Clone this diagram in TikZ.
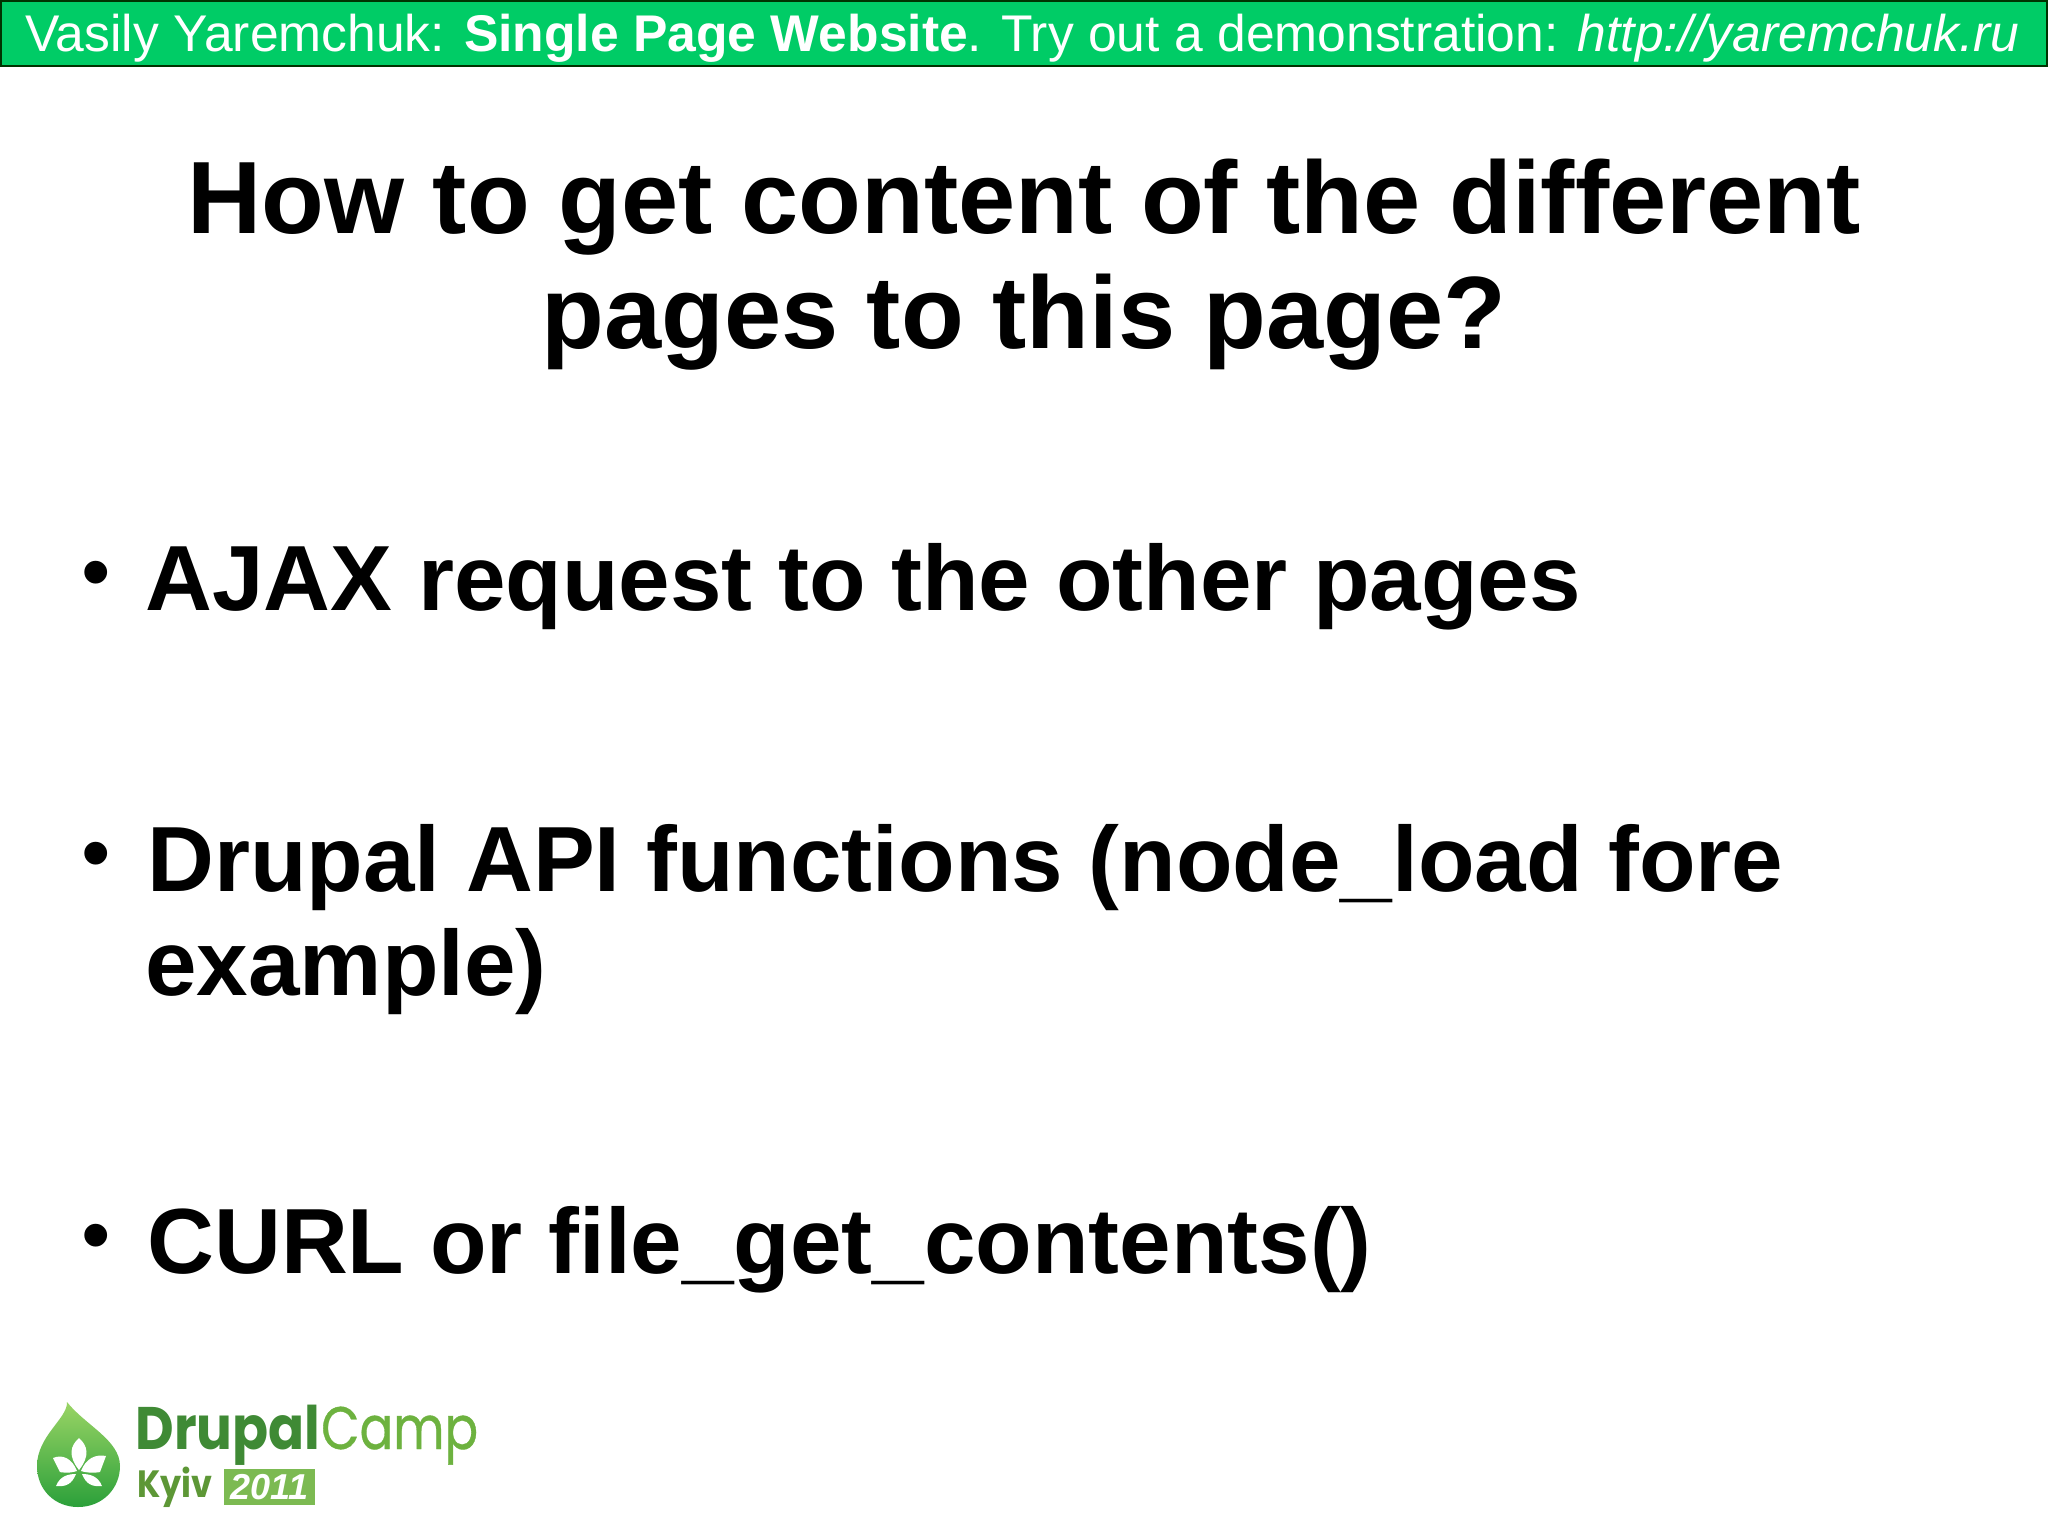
\documentclass[tikz,border=0pt]{standalone}
\usepackage{fontspec}
\setmainfont{Liberation Sans}
\newfontfamily\logofont{Poppins}
\newfontfamily\logofontb[FakeBold=0.6]{Poppins}
\usetikzlibrary{calc}
\definecolor{bannergreen}{HTML}{00CC66}
\definecolor{logodark}{HTML}{3F8A35}
\definecolor{logolight}{HTML}{6DB23F}
\definecolor{droptop}{HTML}{9AD465}
\definecolor{dropmid}{HTML}{6FBE4A}
\definecolor{dropbot}{HTML}{2BA03A}
\tikzset{
  px/.style={x=0.5pt,y=-0.5pt},
  bannertext/.style={anchor=base west,inner sep=0pt,text=white,font=\fontsize{25.8pt}{28pt}\selectfont},
  titletext/.style={anchor=base,inner sep=0pt,font=\fontsize{51.4pt}{56pt}\selectfont\bfseries},
  bodytext/.style={anchor=base west,inner sep=0pt,font=\fontsize{46.3pt}{50pt}\selectfont\bfseries},
  bullettext/.style={anchor=base west,inner sep=0pt,font=\fontsize{42pt}{44pt}\selectfont},
  logotext/.style={anchor=base west,inner sep=0pt,font=\logofont\fontsize{30pt}{32pt}\selectfont\bfseries},
  petal/.style={fill=white,draw=none}
}
\begin{document}
\begin{tikzpicture}[px]
\useasboundingbox (0,0) rectangle (2048,1535);
\fill[white] (0,0) rectangle (2048,1535);
\draw[fill=bannergreen,draw=black!80!green,line width=1pt] (1,1) rectangle (2047,66);
\node[bannertext] (banner) at (25,52) {Vasily Yaremchuk: \textbf{Single Page Website}. Try out a demonstration: \textit{http://yaremchuk.ru}};
\node[titletext] (title1) at (1024,234) {How to get content of the different};
\node[titletext] (title2) at (1024,349) {pages to this page?};
\node[bullettext] (b1) at (81,600) {•};
\node[bodytext] (t1) at (145,610) {AJAX request to the other pages};
\node[bullettext] (b2) at (81,881) {•};
\node[bodytext] (t2) at (147,891) {Drupal API functions (node\_load fore};
\node[bodytext] (t2b) at (145,995) {example)};
\node[bullettext] (b3) at (81,1263) {•};
\node[bodytext] (t3) at (147,1273) {CURL or file\_get\_contents()};
% logo
\shade[top color=droptop,middle color=dropmid,bottom color=dropbot]
  (67,1402) .. controls (68,1418) and (37,1436) .. (37,1466)
  .. controls (37,1490) and (55,1507) .. (78,1507)
  .. controls (103,1507) and (120,1488) .. (120,1466)
  .. controls (120,1440) and (85,1425) .. (67,1402) -- cycle;
\fill[petal] (79,1438) .. controls (70,1446) and (68,1456) .. (79,1470) .. controls (90,1456) and (88,1446) .. (79,1438) -- cycle;
\fill[petal] (53,1458) .. controls (62,1454) and (72,1458) .. (77,1471) .. controls (68,1474) and (60,1472) .. (60,1472) -- cycle;
\fill[petal] (106,1456) .. controls (96,1454) and (86,1458) .. (81,1471) .. controls (90,1474) and (100,1472) .. (100,1472) -- cycle;
\fill[petal] (76,1474) .. controls (68,1474) and (60,1476) .. (56,1486) .. controls (66,1487) and (72,1484) .. (76,1474) -- cycle;
\fill[petal] (82,1474) .. controls (90,1474) and (98,1476) .. (102,1486) .. controls (92,1487) and (86,1484) .. (82,1474) -- cycle;
\node[logotext,text=logodark] (drupal) at (135,1449) {\scalebox{.885}[1]{Drupal}};
\node[anchor=base west,inner sep=0pt,text=logolight,font=\logofontb\fontsize{30pt}{32pt}\selectfont] (camp) at (drupal.base east) {\scalebox{.83}[1]{Camp}};
\node[anchor=base west,inner sep=0pt,text=logolight!85!black,font=\logofont\fontsize{19pt}{20pt}\selectfont\bfseries] (kyiv) at (137,1497) {\scalebox{.88}[1]{Kyiv}};
\fill[logolight!90!white] (224,1469) rectangle (315,1505);
\node[anchor=center,inner sep=0pt,text=white,font=\fontsize{18pt}{20pt}\selectfont\bfseries\itshape] (year) at (269.5,1487) {2011};
\end{tikzpicture}
\end{document}
